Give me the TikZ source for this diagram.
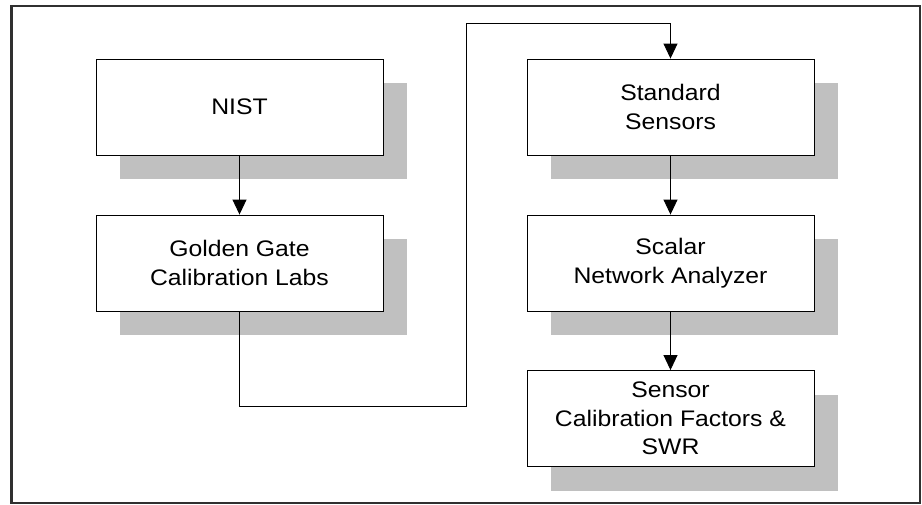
\documentclass[tikz,border=0pt]{standalone}
\usepackage{fontspec}
\setmainfont{Liberation Sans}[FakeStretch=1.1]
\usetikzlibrary{arrows.meta,shadows}
\definecolor{frameGray}{RGB}{48, 48, 48}
\definecolor{shadowGray}{RGB}{192, 192, 192}

\begin{document}
\begin{tikzpicture}[x=1pt, y=-1pt,
	box/.style={draw, fill=white, line width=0.9pt, minimum width=287pt, minimum height=96pt, inner sep=0pt, align=center,
		font=\fontsize{22.5}{28.5}\selectfont,
		drop shadow={shadow xshift=24pt, shadow yshift=-24pt, fill=shadowGray, opacity=1, draw=none}},
	arr/.style={line width=0.9pt, -{Triangle[width=14pt, length=15pt]}}]
			\useasboundingbox (0,0) rectangle (922,504);
			\draw[frameGray, line width=2.5pt] (11.5,6) rectangle (920,503);

			\draw (239.5,107) node[box] (nist) {NIST};
			\draw (239.5,263) node[box] (gg) {Golden Gate\\Calibration Labs};
			\draw (670.5,107) node[box] (ss) {Standard\\Sensors};
			\draw (670.5,263) node[box] (sna) {Scalar\\Network Analyzer};
			\draw (670.5,418.5) node[box] (scf) {Sensor\\Calibration Factors \&\\SWR};

			\coordinate (lo) at (466.7,406.7);
			\coordinate (hi) at (466.7,23.3);

			\path[arr]
			(nist) edge (gg)
			(ss) edge (sna)
			(sna) edge (scf)
			;
			\draw[arr] (gg.south) |- (lo) -- (hi) -| (ss.north);
		\end{tikzpicture}
\end{document}
